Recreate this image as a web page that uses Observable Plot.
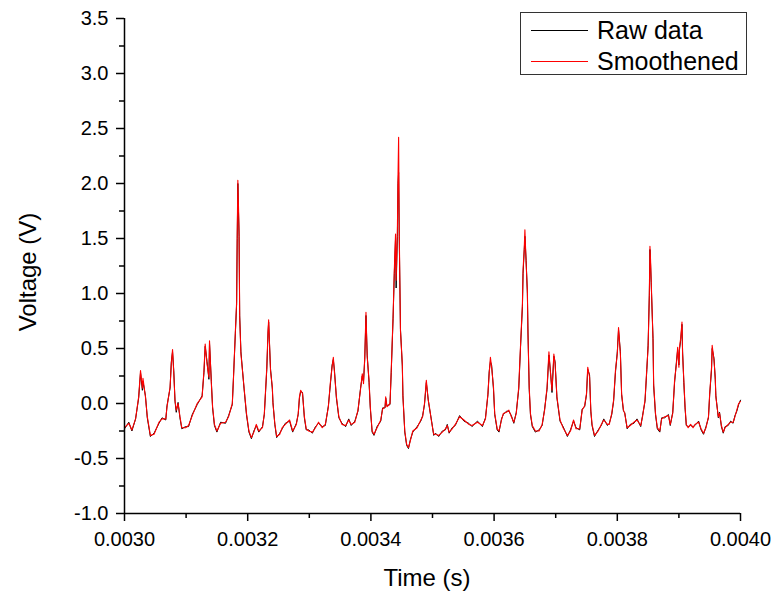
<!DOCTYPE html>
<html>
<head>
<meta charset="utf-8">
<script src="https://cdn.jsdelivr.net/npm/d3@7"></script>
<script src="https://cdn.jsdelivr.net/npm/@observablehq/plot@0.6"></script>
<style>
  body { margin: 0; background: #fff; font-family: "Liberation Sans", Arial, sans-serif; }
  #wrap { position: relative; width: 774px; height: 597px; overflow: hidden; }
  #legend { position: absolute; left: 520px; top: 12px; width: 227px; height: 63px; border: 1.5px solid #333; box-sizing: border-box; background: #fff; }
  .row { position: absolute; left: 0; height: 30px; display: flex; align-items: center; white-space: nowrap; }
  .sw { display: inline-block; width: 57px; height: 0; border-top: 1.3px solid; margin-left: 10px; margin-right: 9px; }
  .lab { font-size: 25px; color: #000; line-height: 30px; }
  .title { position: absolute; font-size: 24px; color: #000; white-space: nowrap; }
</style>
</head>
<body>
<div id="wrap">
  <div id="chart"></div>
  <div class="title" id="xtitle"></div>
  <div class="title" id="ytitle"></div>
  <div id="legend"></div>
</div>
<script>
// ---- data (time in microseconds, voltage in V) ----
const smoothedPts = [
[3000,-0.22],[3007,-0.18],[3012,-0.24],[3018,-0.14],[3023,0.06],[3026,0.30],[3029,0.14],[3030,0.23],[3034,0.06],[3037,-0.12],
[3042,-0.29],[3048,-0.28],[3056,-0.17],[3061,-0.14],[3067,-0.14],[3069,-0.03],[3074,0.15],[3076,0.36],[3078,0.49],[3080,0.27],
[3082,0.03],[3084,-0.06],[3087,0.00],[3090,-0.12],[3093,-0.22],[3099,-0.22],[3104,-0.20],[3110,-0.11],[3118,0.00],[3126,0.06],
[3129,0.30],[3131,0.54],[3134,0.36],[3137,0.24],[3138,0.57],[3141,0.18],[3143,-0.03],[3146,-0.19],[3150,-0.25],[3156,-0.18],
[3164,-0.17],[3169,-0.12],[3175,0.00],[3177,0.24],[3180,0.66],[3182,0.92],[3183,1.54],[3184,2.03],[3186,1.57],[3187,0.78],
[3189,0.45],[3194,0.15],[3198,-0.09],[3202,-0.25],[3206,-0.31],[3210,-0.26],[3214,-0.19],[3218,-0.25],[3224,-0.22],[3227,-0.09],
[3231,0.33],[3233,0.66],[3234,0.76],[3237,0.30],[3240,0.15],[3241,0.00],[3244,-0.18],[3247,-0.30],[3252,-0.28],
[3256,-0.22],[3261,-0.19],[3268,-0.15],[3273,-0.25],[3279,-0.19],[3282,-0.09],[3284,0.06],[3286,0.12],[3289,0.09],[3292,-0.12],
[3295,-0.23],[3299,-0.25],[3305,-0.26],[3310,-0.22],[3315,-0.17],[3321,-0.22],[3326,-0.19],[3331,-0.03],[3334,0.18],[3337,0.33],
[3339,0.42],[3341,0.27],[3344,0.06],[3348,-0.12],[3353,-0.19],[3359,-0.20],[3364,-0.15],[3368,-0.19],[3374,-0.17],[3379,-0.06],
[3383,0.12],[3386,0.27],[3388,0.18],[3390,0.42],[3392,0.83],[3394,0.42],[3397,0.21],[3399,-0.03],[3402,-0.25],[3405,-0.28],
[3410,-0.22],[3416,-0.15],[3419,-0.05],[3423,-0.03],[3424,0.06],[3426,-0.03],[3431,0.00],[3433,0.30],[3436,0.79],[3438,1.21],
[3440,1.54],[3441,1.12],[3443,1.57],[3444,2.06],[3445,2.42],[3446,1.57],[3448,0.66],[3451,0.36],[3452,0.06],[3455,-0.25],
[3458,-0.37],[3461,-0.40],[3464,-0.34],[3468,-0.25],[3475,-0.22],[3481,-0.15],[3484,-0.12],[3487,0.00],[3490,0.21],[3493,0.03],
[3495,-0.03],[3498,-0.15],[3502,-0.28],
[3505,-0.28],[3510,-0.29],[3516,-0.26],[3521,-0.23],[3524,-0.20],[3527,-0.26],[3532,-0.23],[3537,-0.19],[3544,-0.12],[3551,-0.15],
[3559,-0.19],[3564,-0.20],[3573,-0.17],[3581,-0.20],[3586,-0.14],[3590,0.09],[3592,0.27],[3594,0.42],[3596,0.33],[3599,0.15],
[3601,-0.09],[3605,-0.23],[3608,-0.25],[3612,-0.15],[3615,-0.09],[3620,-0.08],[3624,-0.06],[3628,-0.12],[3632,-0.17],[3636,-0.09],
[3640,0.15],[3643,0.54],[3646,0.91],[3647,1.21],[3649,1.42],[3650,1.58],[3652,1.27],[3654,1.03],[3655,0.63],[3657,0.15],
[3659,-0.09],[3662,-0.20],[3667,-0.25],[3673,-0.25],[3678,-0.19],[3682,-0.06],[3686,0.15],[3689,0.47],[3692,0.24],[3694,0.12],
[3697,0.45],[3699,0.36],[3702,0.06],[3707,-0.15],[3712,-0.22],[3719,-0.29],[3724,-0.25],[3729,-0.15],[3733,-0.23],[3739,-0.23],
[3743,-0.06],[3747,-0.02],[3750,0.09],[3752,0.33],[3755,0.24],
[3757,-0.06],[3759,-0.19],[3763,-0.29],[3769,-0.25],[3774,-0.19],[3778,-0.15],[3784,-0.19],[3787,-0.19],[3791,-0.09],[3794,0.03],
[3797,0.30],[3800,0.45],[3802,0.69],[3805,0.45],[3807,0.09],[3810,-0.06],[3812,-0.09],[3816,-0.22],[3821,-0.20],[3827,-0.17],
[3832,-0.15],[3838,-0.20],[3841,-0.12],[3845,0.03],[3848,0.33],[3850,0.51],[3852,1.00],[3853,1.43],[3854,1.30],[3855,1.12],
[3858,0.57],[3859,0.18],[3862,-0.09],[3865,-0.22],[3869,-0.25],[3872,-0.14],[3877,-0.12],[3883,-0.11],[3886,-0.19],[3890,-0.09],
[3893,0.21],[3896,0.36],[3898,0.51],[3900,0.33],[3901,0.51],[3903,0.60],[3905,0.74],[3906,0.45],[3908,0.21],[3910,-0.03],
[3912,-0.19],[3915,-0.22],[3919,-0.19],[3923,-0.22],[3926,-0.19],[3932,-0.17],[3936,-0.23],[3940,-0.27],[3944,-0.22],[3948,-0.12],
[3950,0.09],[3953,0.33],[3954,0.53],[3957,0.39],[3959,0.24],[3960,0.06],[3964,-0.12],[3966,-0.09],[3969,-0.20],[3972,-0.26],
[3975,-0.22],[3980,-0.19],[3984,-0.17],[3988,-0.17],[3991,-0.12],[3994,-0.06],[3997,0.00],[4000,0.02]
];

const rawPts = [
[3000,-0.23],[3007,-0.17],[3012,-0.25],[3018,-0.14],[3023,0.05],[3026,0.28],[3029,0.12],[3030,0.20],[3034,0.07],[3037,-0.13],
[3042,-0.30],[3048,-0.27],[3056,-0.18],[3061,-0.13],[3067,-0.15],[3069,-0.02],[3074,0.14],[3076,0.38],[3078,0.47],[3080,0.30],
[3082,0.02],[3084,-0.08],[3087,0.01],[3090,-0.13],[3093,-0.23],[3099,-0.21],[3104,-0.21],[3110,-0.10],[3118,-0.01],[3126,0.07],
[3129,0.28],[3131,0.52],[3134,0.38],[3137,0.22],[3138,0.55],[3141,0.20],[3143,-0.04],[3146,-0.20],[3150,-0.26],[3156,-0.17],
[3164,-0.18],[3169,-0.11],[3175,-0.01],[3177,0.25],[3180,0.64],[3182,0.90],[3183,1.50],[3184,2.00],[3186,1.52],[3187,0.80],
[3189,0.47],[3194,0.14],[3198,-0.10],[3202,-0.26],[3206,-0.32],[3210,-0.25],[3214,-0.20],[3218,-0.26],[3224,-0.21],[3227,-0.10],
[3231,0.31],[3233,0.64],[3234,0.74],[3237,0.32],[3240,0.13],[3241,0.01],[3244,-0.19],[3247,-0.31],[3252,-0.27],
[3256,-0.23],[3261,-0.18],[3268,-0.16],[3273,-0.26],[3279,-0.18],[3282,-0.10],[3284,0.05],[3286,0.11],[3289,0.10],[3292,-0.13],
[3295,-0.24],[3299,-0.24],[3305,-0.27],[3310,-0.21],[3315,-0.18],[3321,-0.21],[3326,-0.20],[3331,-0.02],[3334,0.16],[3337,0.35],
[3339,0.40],[3341,0.29],[3344,0.05],[3348,-0.13],[3353,-0.18],[3359,-0.21],[3364,-0.14],[3368,-0.20],[3374,-0.16],[3379,-0.07],
[3383,0.13],[3386,0.25],[3388,0.20],[3390,0.40],[3392,0.80],[3394,0.44],[3397,0.19],[3399,-0.04],[3402,-0.26],[3405,-0.29],
[3410,-0.21],[3416,-0.16],[3419,-0.04],[3423,-0.04],[3424,0.05],[3426,-0.02],[3431,-0.01],[3433,0.28],[3436,0.77],[3438,1.18],
[3440,1.50],[3441,1.05],[3443,1.52],[3444,2.00],[3445,2.10],[3446,1.52],[3448,0.68],[3451,0.34],[3452,0.07],[3455,-0.26],
[3458,-0.38],[3461,-0.41],[3464,-0.33],[3468,-0.26],[3475,-0.21],[3481,-0.16],[3484,-0.11],[3487,-0.01],[3490,0.19],[3493,0.04],
[3495,-0.04],[3498,-0.14],[3502,-0.29],
[3505,-0.27],[3510,-0.30],[3516,-0.25],[3521,-0.24],[3524,-0.19],[3527,-0.27],[3532,-0.22],[3537,-0.20],[3544,-0.11],[3551,-0.16],
[3559,-0.18],[3564,-0.21],[3573,-0.16],[3581,-0.21],[3586,-0.13],[3590,0.08],[3592,0.29],[3594,0.38],[3596,0.35],[3599,0.13],
[3601,-0.10],[3605,-0.24],[3608,-0.26],[3612,-0.14],[3615,-0.10],[3620,-0.07],[3624,-0.07],[3628,-0.11],[3632,-0.18],[3636,-0.08],
[3640,0.13],[3643,0.52],[3646,0.88],[3647,1.18],[3649,1.40],[3650,1.52],[3652,1.30],[3654,1.00],[3655,0.65],[3657,0.13],
[3659,-0.10],[3662,-0.21],[3667,-0.26],[3673,-0.24],[3678,-0.20],[3682,-0.05],[3686,0.13],[3689,0.44],[3692,0.26],[3694,0.10],
[3697,0.43],[3699,0.38],[3702,0.05],[3707,-0.16],[3712,-0.21],[3719,-0.30],[3724,-0.24],[3729,-0.16],[3733,-0.22],[3739,-0.24],
[3743,-0.05],[3747,-0.03],[3750,0.08],[3752,0.31],[3755,0.26],
[3757,-0.07],[3759,-0.20],[3763,-0.30],[3769,-0.24],[3774,-0.20],[3778,-0.14],[3784,-0.20],[3787,-0.18],[3791,-0.10],[3794,0.02],
[3797,0.28],[3800,0.47],[3802,0.67],[3805,0.47],[3807,0.08],[3810,-0.07],[3812,-0.08],[3816,-0.23],[3821,-0.19],[3827,-0.18],
[3832,-0.14],[3838,-0.21],[3841,-0.11],[3845,0.02],[3848,0.31],[3850,0.53],[3852,0.98],[3853,1.40],[3854,1.27],[3855,1.10],
[3858,0.59],[3859,0.16],[3862,-0.10],[3865,-0.23],[3869,-0.26],[3872,-0.13],[3877,-0.13],[3883,-0.10],[3886,-0.20],[3890,-0.08],
[3893,0.19],[3896,0.38],[3898,0.49],[3900,0.35],[3901,0.49],[3903,0.58],[3905,0.72],[3906,0.47],[3908,0.19],[3910,-0.04],
[3912,-0.20],[3915,-0.21],[3919,-0.20],[3923,-0.21],[3926,-0.20],[3932,-0.16],[3936,-0.24],[3940,-0.28],[3944,-0.21],[3948,-0.13],
[3950,0.08],[3953,0.31],[3954,0.50],[3957,0.41],[3959,0.22],[3960,0.07],[3964,-0.13],[3966,-0.08],[3969,-0.21],[3972,-0.27],
[3975,-0.21],[3980,-0.20],[3984,-0.16],[3988,-0.18],[3991,-0.11],[3994,-0.07],[3997,-0.01],[4000,0.03]
];

const seriesNames = ["Raw data", "Smoothened"];
const seriesColors = ["#000000", "#ff0000"];
const xMajorTicks = [0.0030, 0.0032, 0.0034, 0.0036, 0.0038, 0.0040];
const xMinorTicks = [0.0031, 0.0033, 0.0035, 0.0037, 0.0039];
const yMajorTicks = [-1.0, -0.5, 0.0, 0.5, 1.0, 1.5, 2.0, 2.5, 3.0, 3.5];
const yMinorTicks = [-0.75, -0.25, 0.25, 0.75, 1.25, 1.75, 2.25, 2.75, 3.25];
const xTitle = "Time (s)";
const yTitle = "Voltage (V)";

// ---- build ----
const rows = [
  ...rawPts.map(([t, v]) => ({series: seriesNames[0], t: t / 1e6, v})),
  ...smoothedPts.map(([t, v]) => ({series: seriesNames[1], t: t / 1e6, v}))
];

const chart = Plot.plot({
  width: 774,
  height: 597,
  marginLeft: 124,
  marginRight: 34,
  marginTop: 18,
  marginBottom: 84,
  style: {fontFamily: "'Liberation Sans', Arial, sans-serif", fontSize: "20px", color: "#000", background: "#fff", overflow: "visible"},
  x: {domain: [0.0030, 0.0040]},
  y: {domain: [-1.0, 3.5]},
  color: {domain: seriesNames, range: seriesColors},
  marks: [
    Plot.line(rows.filter(d => d.series === seriesNames[0]), {x: "t", y: "v", stroke: "series", strokeWidth: 1}),
    Plot.line(rows.filter(d => d.series === seriesNames[1]), {x: "t", y: "v", stroke: "series", strokeWidth: 1.1}),
    Plot.axisX({ticks: xMinorTicks, tickSize: 5, tickFormat: () => "", label: null, strokeWidth: 1.5}),
    Plot.axisX({ticks: xMajorTicks, tickSize: 8, tickPadding: 10, tickFormat: d => d.toFixed(4), label: null, strokeWidth: 1.5}),
    Plot.axisY({ticks: yMinorTicks, tickSize: 5, tickFormat: () => "", label: null, strokeWidth: 1.5}),
    Plot.axisY({ticks: yMajorTicks, tickSize: 8, tickPadding: 8, tickFormat: d => d.toFixed(1), label: null, strokeWidth: 1.5}),
    Plot.ruleX([0.0030], {stroke: "#000", strokeWidth: 1.5}),
    Plot.ruleY([-1.0], {stroke: "#000", strokeWidth: 1.5})
  ]
});
document.getElementById("chart").appendChild(chart);

// axis titles
const xt = document.getElementById("xtitle");
xt.textContent = xTitle;
xt.style.left = "427px"; xt.style.top = "578px";
xt.style.transform = "translate(-50%, -50%)";
const yt = document.getElementById("ytitle");
yt.textContent = yTitle;
yt.style.left = "28px"; yt.style.top = "272px";
yt.style.transform = "translate(-50%, -50%) rotate(-90deg)";

// legend
const lg = document.getElementById("legend");
seriesNames.forEach((name, i) => {
  const r = document.createElement("div");
  r.className = "row";
  r.style.top = (i === 0 ? 2 : 33) + "px";
  const sw = document.createElement("span");
  sw.className = "sw";
  sw.style.borderTopColor = seriesColors[i];
  const lab = document.createElement("span");
  lab.className = "lab";
  lab.textContent = name;
  r.appendChild(sw); r.appendChild(lab);
  lg.appendChild(r);
});
</script>
</body>
</html>
